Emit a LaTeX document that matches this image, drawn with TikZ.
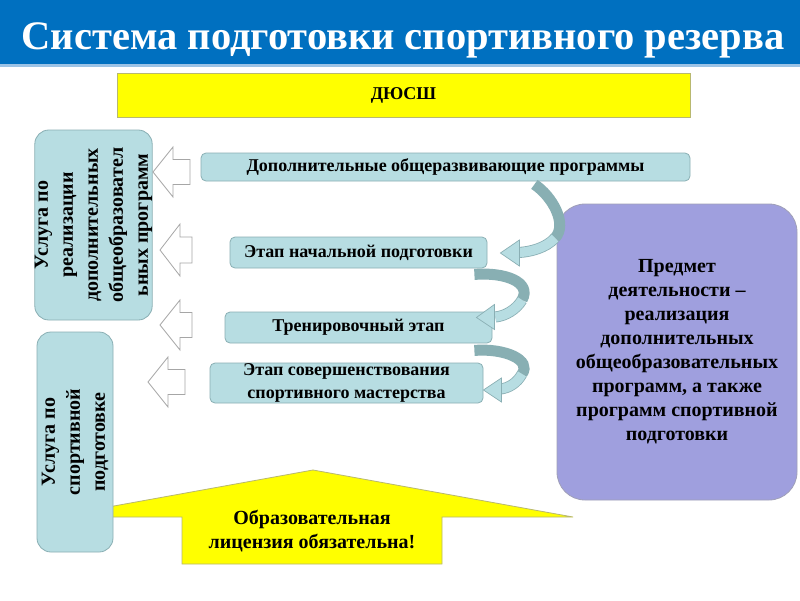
\documentclass[tikz,border=0pt]{standalone}
\usepackage{fontspec}
\setmainfont{Liberation Serif}
\usetikzlibrary{calc}
\definecolor{titleblue}{HTML}{0070C0}
\definecolor{titlelight}{HTML}{9CC3E6}
\definecolor{tealfill}{HTML}{B7DDE2}
\definecolor{tealline}{HTML}{8AAFB4}
\definecolor{tealdark}{HTML}{88AFB3}
\definecolor{lavender}{HTML}{9F9FDE}
\definecolor{lavline}{HTML}{A0A0B8}
\definecolor{yel}{HTML}{FFFF00}
\definecolor{yelline}{HTML}{B8B870}
\definecolor{arrgray}{HTML}{A6A6A6}
\newcommand\openarrowshape[4]{% tipx, cy, endx, halfh
  \draw[openarr] (#1,#2) -- (#1+20,#2-#4) -- (#1+20,#2-#4/2) -- (#3,#2-#4/2)
    -- (#3,#2+#4/2) -- (#1+20,#2+#4/2) -- (#1+20,#2+#4) -- cycle;}
\begin{document}
\begin{tikzpicture}[x=1pt,y=-1pt,
  stagebox/.style={draw=tealline, fill=tealfill, rounded corners=5pt, line width=0.8pt,
    font=\fontsize{18}{23}\selectfont\bfseries, align=center, inner sep=0pt},
  sidebox/.style={draw=tealline, fill=tealfill, rounded corners=14pt, line width=0.8pt,
    font=\fontsize{20}{25}\selectfont\bfseries, align=center, inner sep=0pt, rotate=90},
  openarr/.style={draw=arrgray, fill=white, line width=0.8pt, line join=miter},
  ribbonback/.style={draw=tealdark, line width=11pt},
  ribbonfrontout/.style={draw=tealline, line width=11pt},
  ribbonfront/.style={draw=tealfill, line width=9.4pt},
  ribbonhead/.style={draw=tealline, fill=tealfill, line width=0.7pt, line join=miter},
]
\useasboundingbox (0,0) rectangle (800,600);
\fill[white] (0,0) rectangle (800,600);
% title bar
\fill[titleblue] (0,0) rectangle (800,64);
\fill[titlelight] (0,64) rectangle (800,67);
\node[text=white, font=\fontsize{40.5}{46}\selectfont\bfseries] (title) at (403,40) {Система подготовки спортивного резерва};
% DYuSSh
\node[draw=yelline, fill=yel, line width=0.8pt, minimum width=573pt, minimum height=44pt,
  font=\fontsize{18}{22}\selectfont\bfseries] (school) at (403.5,95) {ДЮСШ};
% big yellow arrow (behind left box 2)
\draw[draw=yelline, fill=yel, line width=0.8pt, line join=miter]
  (313,470) -- (573,517) -- (442,517) -- (442,564) -- (182,564) -- (182,517) -- (53,517) -- cycle;
\node[font=\fontsize{20}{24}\selectfont\bfseries, align=center] (licence) at (312,531)
  {Образовательная\\лицензия обязательна!};
% left boxes
\node[sidebox, minimum width=190pt, minimum height=113pt] (svc1) at (93.5,225)
  {Услуга по\\реализации\\дополнительных\\общеобразовател\\ьных программ};
\node[sidebox, minimum width=220pt, minimum height=76pt] (svc2) at (75,442)
  {Услуга по\\спортивной\\подготовке};
% open arrows
\openarrowshape{153}{172}{190}{25}
\openarrowshape{160}{250}{192}{26}
\openarrowshape{160}{325}{192}{25}
\openarrowshape{148}{382}{185}{25}
% stage boxes
\node[stagebox, minimum width=489pt, minimum height=28pt] (progA) at (445.5,167)
  {Дополнительные общеразвивающие программы};
\node[stagebox, minimum width=257pt, minimum height=31pt] (stageB) at (358.5,252.5)
  {Этап начальной подготовки};
\node[stagebox, minimum width=267pt, minimum height=31pt] (stageC) at (358.5,327.5)
  {Тренировочный этап};
\node[stagebox, minimum width=273pt, minimum height=40pt] (stageD) at (346.5,383)
  {Этап совершенствования\\спортивного мастерства};
% purple box
\node[draw=lavline, fill=lavender, rounded corners=28pt, line width=0.8pt,
  minimum width=240pt, minimum height=296pt, align=center,
  font=\fontsize{20}{24}\selectfont\bfseries] (subject) at (677,352)
  {Предмет\\деятельности –\\реализация\\дополнительных\\общеобразовательных\\программ, а также\\программ спортивной\\подготовки};
% curved arrows
% 1: progA -> stageB
\coordinate (s1) at ($(progA.south east)+(-156,3)$);
\coordinate (m1) at (555,238);
\coordinate (e1) at ($(stageB.east)+(31,0)$);
\coordinate (t1) at ($(stageB.east)+(13,0.5)$);
\draw[ribbonback] (s1) .. controls (552,196) and (568,224) .. (m1);
\draw[ribbonfrontout] (m1) .. controls (546,248) and (530,252) .. (e1);
\draw[ribbonfront] (m1) .. controls (546,248) and (530,252) .. (e1);
\draw[ribbonhead] (t1) -- ($(t1)+(19,-13)$) -- ($(t1)+(19,13)$) -- cycle;
% 2: stageB -> stageC
\coordinate (s2) at ($(stageB.south east)+(-13,6)$);
\coordinate (m2) at (522,300);
\coordinate (e2) at ($(stageC.east)+(3,-10.5)$);
\coordinate (t2) at ($(stageC.east)+(-16,-10)$);
\draw[ribbonback] (s2) .. controls (505,272) and (532,282) .. (m2);
\draw[ribbonfrontout] (m2) .. controls (516,310) and (505,316) .. (e2);
\draw[ribbonfront] (m2) .. controls (516,310) and (505,316) .. (e2);
\draw[ribbonhead] (t2) -- ($(t2)+(18,-13)$) -- ($(t2)+(18,12)$) -- cycle;
% 3: stageC -> stageD
\coordinate (s3) at ($(stageC.south east)+(-18,7)$);
\coordinate (m3) at (522,374);
\coordinate (e3) at ($(stageD.east)+(17,6)$);
\coordinate (t3) at ($(stageD.east)+(0,7)$);
\draw[ribbonback] (s3) .. controls (505,348) and (532,360) .. (m3);
\draw[ribbonfrontout] (m3) .. controls (517,383) and (509,388) .. (e3);
\draw[ribbonfront] (m3) .. controls (517,383) and (509,388) .. (e3);
\draw[ribbonhead] (t3) -- ($(t3)+(18,-12)$) -- ($(t3)+(18,12)$) -- cycle;
\end{tikzpicture}
\end{document}
